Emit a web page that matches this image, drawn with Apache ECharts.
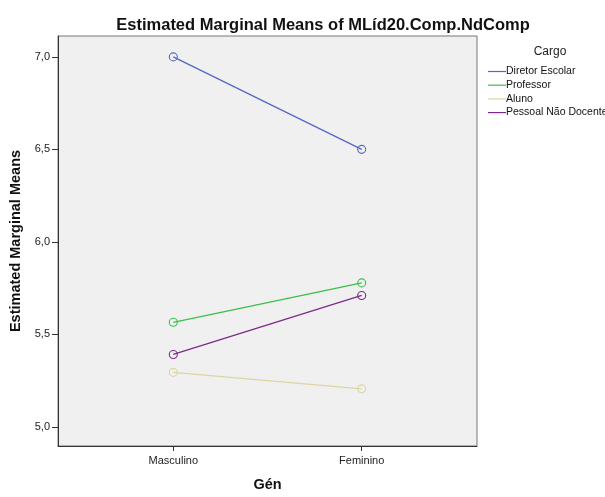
<!DOCTYPE html>
<html>
<head>
<meta charset="utf-8">
<script src="https://cdn.jsdelivr.net/npm/echarts@6/dist/echarts.min.js"></script>
<style>
  html, body { margin: 0; padding: 0; background: #ffffff; }
  #chart { width: 605px; height: 497px; }
</style>
</head>
<body>
<div id="chart"></div>
<script>
// Gender groups on the x axis
const genero = ['Masculino', 'Feminino'];
// Estimated marginal means per role (Cargo)
const diretorEscolar = [7.0, 6.5];
const professor = [5.565, 5.778];
const aluno = [5.294, 5.205];
const pessoalNaoDocente = [5.391, 5.710];
// Y axis ticks
const yTicks = [5.0, 5.5, 6.0, 6.5, 7.0];

const seriesDefs = [
  { name: 'Diretor Escolar', values: diretorEscolar, color: '#5468c4' },
  { name: 'Professor', values: professor, color: '#3cbf4a' },
  { name: 'Aluno', values: aluno, color: '#dcd6a2' },
  { name: 'Pessoal Não Docente', values: pessoalNaoDocente, color: '#7d2a8a' }
];

const font = '"Liberation Sans", Arial, sans-serif';
const chart = echarts.init(document.getElementById('chart'));

chart.setOption({
  animation: false,
  backgroundColor: '#ffffff',
  title: [
    {
      text: 'Estimated Marginal Means of MLíd20.Comp.NdComp',
      left: 318, top: 12, textAlign: 'center',
      textStyle: { fontFamily: font, fontSize: 16.5, fontWeight: 'bold', color: '#111' }
    },
    {
      text: 'Cargo',
      left: 545, top: 41, textAlign: 'center',
      textStyle: { fontFamily: font, fontSize: 12, fontWeight: 'normal', color: '#222' }
    }
  ],
  legend: {
    orient: 'vertical',
    left: 483, top: 61,
    icon: 'rect',
    itemWidth: 18, itemHeight: 1.2,
    itemGap: 2.7,
    itemStyle: { borderWidth: 0 },
    textStyle: { fontFamily: font, fontSize: 10.5, color: '#111', padding: [0, 0, 0, -5], lineHeight: 11 },
    data: seriesDefs.map(s => ({ name: s.name, itemStyle: { color: s.color, borderWidth: 0 } }))
  },
  grid: {
    left: 58, top: 36, right: 128, bottom: 44,
    show: true, backgroundColor: '#f0f0f0', borderColor: '#777', borderWidth: 1
  },
  xAxis: {
    type: 'value',
    min: -0.612, max: 1.612,
    name: 'Gén', nameLocation: 'middle', nameGap: 31,
    nameTextStyle: { fontFamily: font, fontSize: 14.5, fontWeight: 'bold', color: '#111' },
    axisLine: { show: true, onZero: false, lineStyle: { color: '#333', width: 1 } },
    axisTick: { show: true, length: 5, customValues: [0, 1], lineStyle: { color: '#333' } },
    axisLabel: {
      customValues: [0, 1],
      formatter: v => genero[Math.round(v)],
      fontFamily: font, fontSize: 11, color: '#222', margin: 9
    },
    splitLine: { show: false }
  },
  yAxis: {
    type: 'value',
    min: 4.896, max: 7.113,
    name: 'Estimated Marginal Means', nameLocation: 'middle', nameGap: 31,
    nameTextStyle: { fontFamily: font, fontSize: 14.5, fontWeight: 'bold', color: '#111' },
    axisLine: { show: true, onZero: false, lineStyle: { color: '#333', width: 1 } },
    axisTick: { show: true, length: 6, customValues: yTicks, lineStyle: { color: '#333' } },
    axisLabel: {
      customValues: yTicks,
      formatter: v => v.toFixed(1).replace('.', ','),
      fontFamily: font, fontSize: 11, color: '#222', margin: 8
    },
    splitLine: { show: false }
  },
  series: seriesDefs.map(s => ({
    name: s.name,
    type: 'line',
    data: s.values.map((v, i) => [i, v]),
    symbol: 'circle',
    symbolSize: 8,
    itemStyle: { color: 'rgba(0,0,0,0)', borderColor: s.color, borderWidth: 1.1 },
    lineStyle: { color: s.color, width: 1.3 }
  }))
});
</script>
</body>
</html>
